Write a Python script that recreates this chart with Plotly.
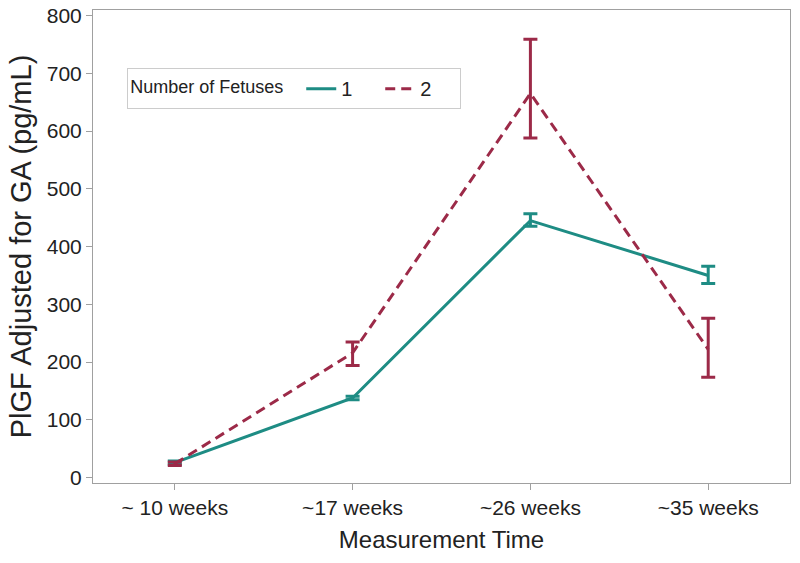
import plotly.graph_objects as go

categories = ["~ 10 weeks", "~17 weeks", "~26 weeks", "~35 weeks"]
one_mean = [26, 138, 445, 350]
one_upper = [29, 141, 457, 366]
one_lower = [23, 135, 435, 336]
two_mean = [24, 216, 665, 222]
two_upper = [27, 235, 759, 276]
two_lower = [21, 194, 588, 174]

teal = "#1E8C84"
red = "#9C2A48"

fig = go.Figure()
x = list(range(len(categories)))

def add(name, mean, up, lo, color, dash):
    fig.add_trace(go.Scatter(
        x=x, y=mean, name=name, mode="lines",
        line=dict(color=color, width=3, dash=dash),
        error_y=dict(type="data", symmetric=False,
                     array=[u - m for u, m in zip(up, mean)],
                     arrayminus=[m - l for m, l in zip(mean, lo)],
                     color=color, thickness=3, width=7),
    ))

add("1", one_mean, one_upper, one_lower, teal, "solid")
add("2", two_mean, two_upper, two_lower, red, "10px,6px")

fig.update_layout(
    width=800, height=563,
    margin=dict(l=93, r=10, t=10, b=80),
    plot_bgcolor="white", paper_bgcolor="white",
    font=dict(family="Liberation Sans, Arial", color="#222"),
    legend=dict(
        title=dict(text="Number of Fetuses  ", font=dict(size=18)),
        orientation="h", x=0.049, y=0.877, xanchor="left", yanchor="top",
        bordercolor="#cccccc", borderwidth=1, font=dict(size=20),
        entrywidth=34,
    ),
    xaxis=dict(
        tickmode="array", tickvals=x, ticktext=categories,
        range=[-0.46, 3.46], showgrid=False, zeroline=False,
        showline=True, linecolor="#a0a0a0", mirror=True,
        ticks="outside", tickcolor="#a0a0a0", ticklen=6,
        tickfont=dict(size=21), automargin=False,
        title=dict(text="Measurement Time", font=dict(size=24), standoff=12),
    ),
    yaxis=dict(
        range=[-9.2, 809.5], tickvals=list(range(0, 801, 100)),
        showgrid=False, zeroline=False,
        showline=True, linecolor="#a0a0a0", mirror=True,
        ticks="outside", tickcolor="#a0a0a0", ticklen=6,
        tickfont=dict(size=21), automargin=False,
        title=dict(text="PlGF Adjusted for GA (pg/mL)", font=dict(size=29), standoff=6),
    ),
)

fig.write_html("out.html", config={"displayModeBar": False},
               post_script="document.body.style.margin='0';")
